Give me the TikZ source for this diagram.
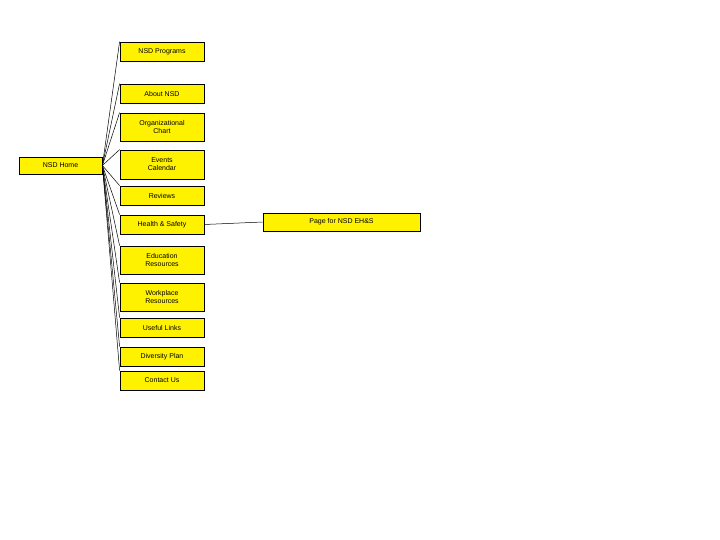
\documentclass[tikz,border=0pt]{standalone}
\usepackage{fontspec}
\setmainfont{Liberation Sans}
\begin{document}
\begin{tikzpicture}[x=1pt,y=-1pt,
  bx/.style={draw=black,fill=yellow,line width=0.8pt,inner sep=0pt,font=\fontsize{7}{8}\selectfont,align=center},
  ln/.style={draw=black,line width=0.5pt}]
\useasboundingbox (0,0) rectangle (720,540);
\newcommand{\bxat}[6]{\node[bx,minimum width={#4-#2},minimum height={#5-#3}] (#1) at ({(#2+#4)/2},{(#3+#5)/2}) {#6};}
\bxat{home}{19}{157}{102}{174}{NSD Home}
\bxat{c1}{120}{42}{204}{61}{NSD Programs}
\bxat{c2}{120}{84}{204}{103}{About NSD}
\bxat{c3}{120}{113}{204}{141}{Organizational\\Chart}
\bxat{c4}{120}{150}{204}{179}{Events\\Calendar}
\bxat{c5}{120}{186}{204}{205}{Reviews}
\bxat{c6}{120}{215}{204}{234}{Health \& Safety}
\bxat{c7}{120}{246}{204}{274}{Education\\Resources}
\bxat{c8}{120}{283}{204}{311}{Workplace\\Resources}
\bxat{c9}{120}{318}{204}{337}{Useful Links}
\bxat{c10}{120}{347}{204}{366}{Diversity Plan}
\bxat{c11}{120}{371}{204}{390}{Contact Us}
\bxat{eh}{263}{213}{420}{231}{Page for NSD EH\&S}
\foreach \i in {1,...,11}{\draw[ln] (home.east) -- (c\i.north west);}
\draw[ln] (c6.east) -- (eh.west);
\end{tikzpicture}
\end{document}
